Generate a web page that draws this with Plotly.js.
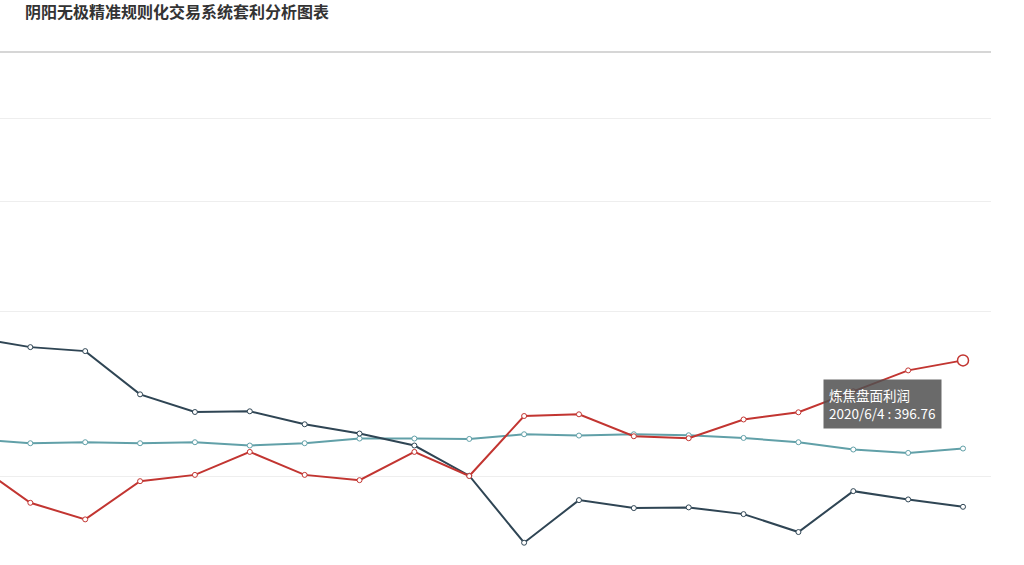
<!DOCTYPE html>
<html>
<head>
<meta charset="utf-8">
<script src="https://cdn.plot.ly/plotly-3.0.1.min.js"></script>
<style>
  html, body { margin: 0; padding: 0; background: #fff; }
  #plot { width: 1024px; height: 565px; }
</style>
</head>
<body>
<div id="plot"></div>
<script>
// trading days, 2020/5/11 .. 2020/6/4
var dates = ['2020/5/11', '2020/5/12', '2020/5/13', '2020/5/14', '2020/5/15',
             '2020/5/18', '2020/5/19', '2020/5/20', '2020/5/21', '2020/5/22',
             '2020/5/25', '2020/5/26', '2020/5/27', '2020/5/28', '2020/5/29',
             '2020/6/1', '2020/6/2', '2020/6/3', '2020/6/4'];

// values (estimated)
var cokeMargin = [42.8, -91.3, -148.1, -17.1, 4.4, 83.1, 4.4, -13.7, 83.1, 0.5,
                  206.2, 212.0, 136.8, 130.0, 194.3, 218.9, 290.7, 362.5, 396.76];
var spreadA = [473.7, 442.2, 428.5, 280.4, 219.9, 222.3, 177.8, 146.0, 105.0, 1.5,
               -228.1, -82.1, -109.4, -107.0, -130.0, -191.5, -51.3, -79.7, -105.0];
var spreadB = [127.2, 112.9, 116.3, 112.9, 116.3, 105.0, 112.9, 128.9, 128.9, 127.6,
               143.6, 139.2, 143.6, 140.2, 131.0, 116.3, 91.3, 79.7, 94.7];

var gridVals = [0, 564.3, 940.5, 1224.4];

var names = ['炼焦盘面利润', '焦炭基差', '焦煤基差'];
var colors = ['#c23531', '#2f4554', '#61a0a8'];
var series = [cokeMargin, spreadA, spreadB];

var data = [];
// draw the flat ones first so the red line sits on top
[2, 1, 0].forEach(function(k) {
  data.push({
    x: dates,
    y: series[k],
    name: names[k],
    type: 'scatter',
    mode: 'lines+markers',
    line: {color: colors[k], width: 2},
    marker: {size: 5, color: '#fff', line: {color: colors[k], width: 1}},
    cliponaxis: true,
    hoverinfo: 'none'
  });
});

// hovered point
var last = dates.length - 1;
data.push({
  x: [dates[last]],
  y: [cokeMargin[last]],
  type: 'scatter',
  mode: 'markers',
  marker: {size: 11, color: '#fff', line: {color: colors[0], width: 1.5}},
  hoverinfo: 'none'
});

var layout = {
  width: 1024,
  height: 565,
  paper_bgcolor: '#fff',
  plot_bgcolor: '#fff',
  showlegend: false,
  margin: {l: 0, r: 33, t: 53, b: 0, pad: 0},
  title: {
    text: '<b>阴阳无极精准规则化交易系统套利分析图表</b>',
    font: {family: 'Noto Sans CJK SC, sans-serif', size: 16, color: '#333'},
    x: 25 / 1024,
    xanchor: 'left',
    xref: 'container',
    y: 1 - 12 / 565,
    yanchor: 'middle',
    yref: 'container'
  },
  xaxis: {
    type: 'category',
    range: [0.447, 18.51],
    side: 'top',
    showline: true,
    linecolor: '#d6d6d6',
    linewidth: 2,
    showgrid: false,
    zeroline: false,
    showticklabels: false,
    ticks: ''
  },
  yaxis: {
    range: [-304.4, 1450.1],
    tickmode: 'array',
    tickvals: gridVals,
    showticklabels: false,
    ticks: '',
    showgrid: true,
    gridcolor: '#eeeeee',
    gridwidth: 1,
    zeroline: false,
    showline: false
  },
  annotations: [{
    x: dates[last],
    y: cokeMargin[last],
    xref: 'x',
    yref: 'y',
    showarrow: false,
    xanchor: 'left',
    yanchor: 'top',
    xshift: -140,
    yshift: -19,
    align: 'left',
    text: '炼焦盘面利润<br>2020/6/4 : 396.76',
    font: {family: 'Noto Sans CJK SC, sans-serif', size: 13.5, color: '#fff'},
    bgcolor: 'rgba(80,80,80,0.85)',
    bordercolor: 'rgba(80,80,80,0)',
    borderpad: 5
  }]
};

Plotly.newPlot('plot', data, layout, {displayModeBar: false, staticPlot: true});
</script>
</body>
</html>
